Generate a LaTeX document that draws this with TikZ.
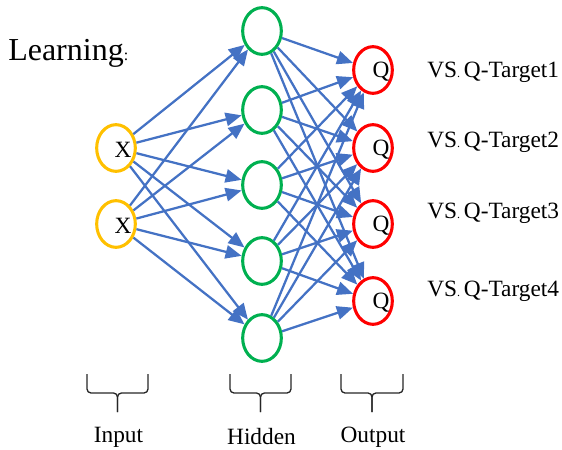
\documentclass[tikz,border=0pt]{standalone}
\usepackage{fontspec}
\setmainfont{Liberation Serif}
\usepackage{tikz}
\usetikzlibrary{arrows.meta,shapes.geometric}

\definecolor{linkblue}{HTML}{4472C4}
\definecolor{inyellow}{HTML}{FFC000}
\definecolor{hidgreen}{HTML}{00B050}
\definecolor{outred}{HTML}{FF0000}

\tikzset{
  neuron/.style={ellipse, draw, line width=2.3pt, minimum width=29pt, minimum height=35pt, inner sep=0pt},
  innode/.style={neuron, draw=inyellow},
  hidnode/.style={neuron, draw=hidgreen},
  outnode/.style={neuron, draw=outred},
  link/.style={draw=linkblue, line width=1.7pt, -{Triangle[length=12pt,width=10pt]}},
  txt/.style={inner sep=0pt, font=\fontsize{17.5}{20}\selectfont},
  bracket/.style={draw=black!85, line width=1pt, rounded corners=3pt},
}

\begin{document}
\begin{tikzpicture}[x=0.75pt,y=-0.75pt]
  \useasboundingbox (0,0) rectangle (562,450);
  \node[txt, anchor=west, font=\fontsize{24}{28}\selectfont] (learn) at (8,53) {Learning{\fontsize{12}{14}\selectfont:}};

  % layers
  \node[innode] (in1) at (116,148) {};
  \node[innode] (in2) at (116,224) {};
  \node[txt] (x1) at (123,150) {X};
  \node[txt] (x2) at (123,226) {X};
  \foreach \i/\y in {1/31,2/110,3/185,4/261,5/338}
    \node[hidnode] (hid\i) at (262,\y) {};
  \foreach \i/\y in {1/70,2/148,3/224,4/301} {
    \node[outnode] (out\i) at (373,\y) {};
    \node[txt] (q\i) at (381,\y+2) {Q};
  }
  \foreach \i/\y in {1/72,2/142,3/213,4/291}
    \node[txt, anchor=west] (vs\i) at (427,\y) {VS{\small.}\,Q-Target\i};

  % weights
  \foreach \a in {1,2}
    \foreach \b in {1,...,5}
      \draw[link] (in\a) -- (hid\b);
  \foreach \a in {1,...,5}
    \foreach \b in {1,...,4}
      \draw[link] (hid\a) -- (out\b);

  % braces under the layers
  \foreach \xa/\xb/\lbl in {87/148/Input, 230/291/Hidden, 341/403/Output} {
    \draw[bracket] (\xa,374) -- (\xa,393) -- ({(\xa+\xb)/2},393) -- ({(\xa+\xb)/2},412);
    \draw[bracket] (\xb,374) -- (\xb,393) -- ({(\xa+\xb)/2},393) -- ({(\xa+\xb)/2},412);
    \node[txt] (name\lbl) at ({(\xa+\xb)/2+1},437) {\lbl};
  }
\end{tikzpicture}
\end{document}
